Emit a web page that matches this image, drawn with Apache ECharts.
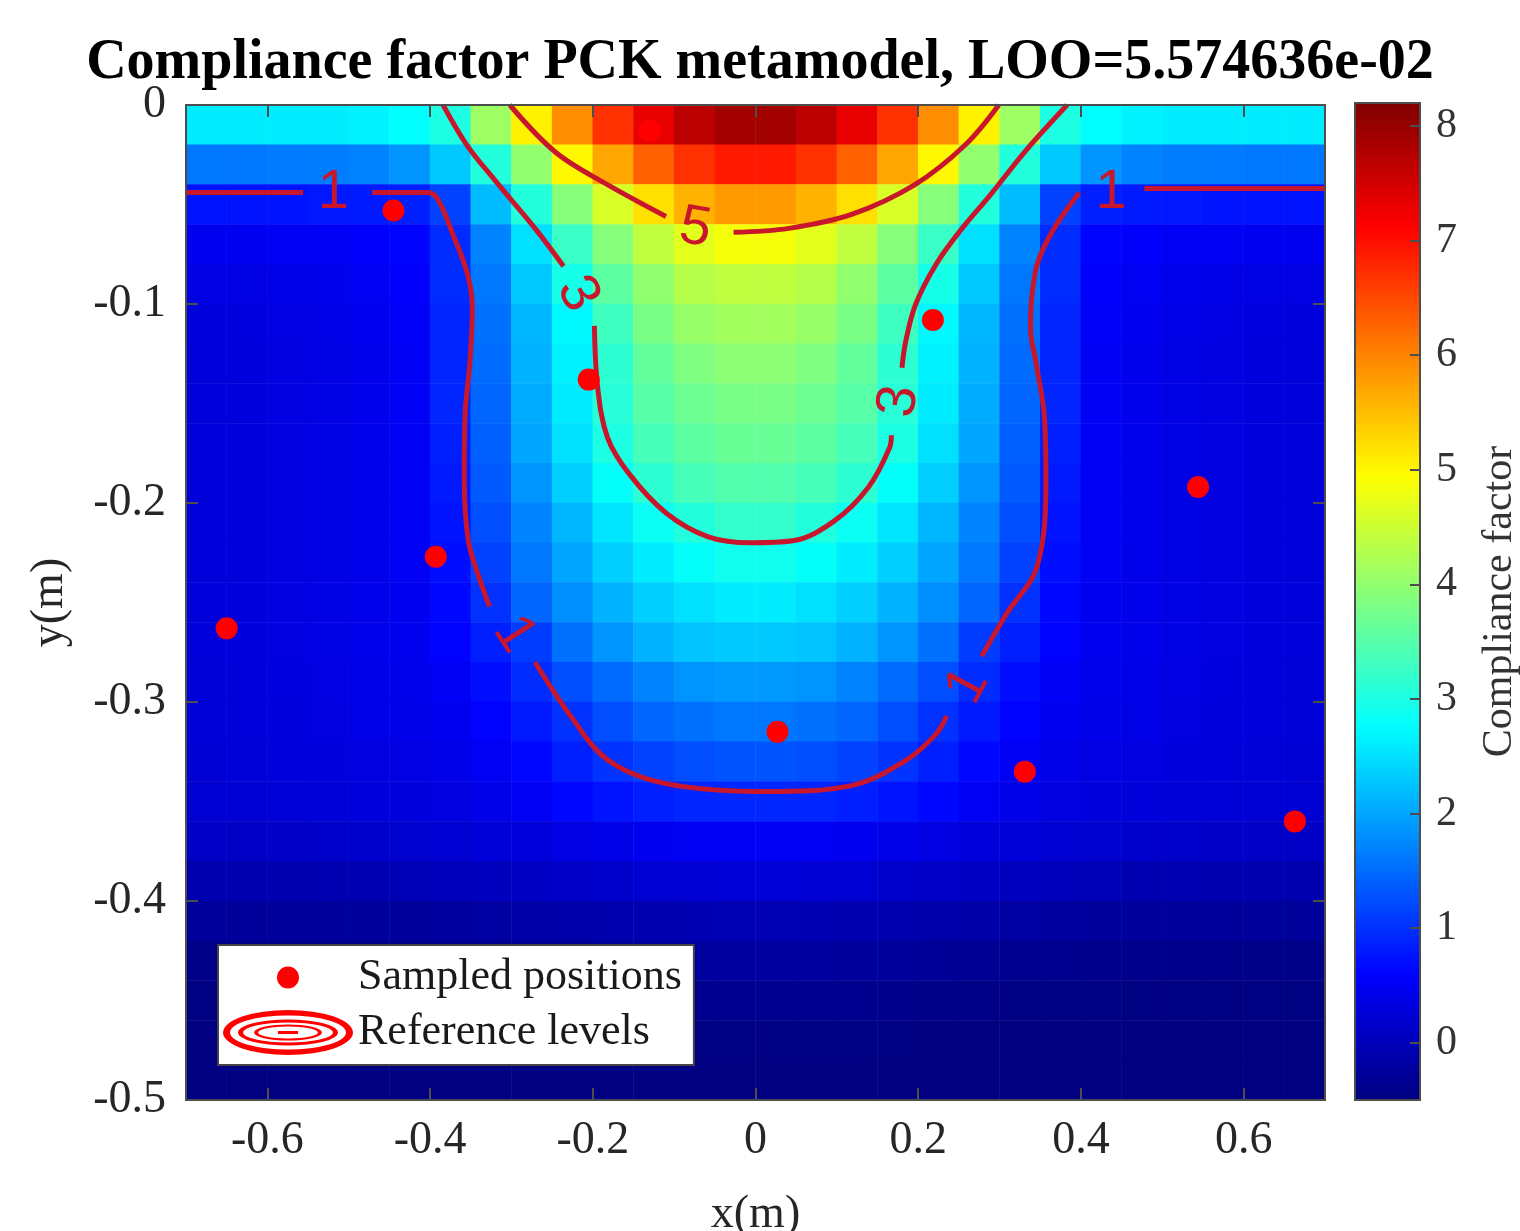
<!DOCTYPE html>
<html lang="en">
<head>
<meta charset="UTF-8">
<title>Compliance factor PCK metamodel</title>
<script src="https://cdn.jsdelivr.net/npm/echarts@6/dist/echarts.min.js"></script>
<style>
    html, body { margin: 0; padding: 0; background: #fff; }
    #chart { width: 1520px; height: 1231px; }
</style>
</head>
<body>
<div id="chart"></div>
<script>
    // cell centres of the metamodel grid (m)
    const xCenters = [-0.675, -0.625, -0.575, -0.525, -0.475, -0.425, -0.375, -0.325, -0.275, -0.225, -0.175, -0.125, -0.075, -0.025,
        0.025, 0.075, 0.125, 0.175, 0.225, 0.275, 0.325, 0.375, 0.425, 0.475, 0.525, 0.575, 0.625, 0.675];
    // top row first
    const yCenters = [-0.01, -0.03, -0.05, -0.07, -0.09, -0.11, -0.13, -0.15, -0.17, -0.19, -0.21, -0.23, -0.25,
        -0.27, -0.29, -0.31, -0.33, -0.35, -0.37, -0.39, -0.41, -0.43, -0.45, -0.47, -0.49];

    // compliance factor, one row per yCenters entry
    const fieldRows = [
        [2.6, 2.6, 2.6, 2.6, 2.65, 2.75, 3.0, 4.1, 5.05, 5.9, 6.7, 7.3, 7.7, 7.9, 7.9, 7.7, 7.3, 6.7, 5.9, 5.05, 4.1, 3.0, 2.75, 2.65, 2.6, 2.6, 2.6, 2.6],
        [1.6, 1.6, 1.62, 1.65, 1.7, 1.85, 2.3, 3.05, 4.0, 5.0, 5.7, 6.3, 6.7, 6.9, 6.9, 6.7, 6.3, 5.7, 5.0, 4.0, 3.05, 2.3, 1.85, 1.7, 1.65, 1.62, 1.6, 1.6],
        [0.75, 0.75, 0.75, 0.78, 0.8, 0.85, 1.15, 2.2, 3.05, 3.9, 4.6, 5.2, 5.6, 5.8, 5.8, 5.6, 5.2, 4.6, 3.9, 3.05, 2.2, 1.15, 0.85, 0.8, 0.78, 0.75, 0.75, 0.75],
        [0.45, 0.46, 0.48, 0.5, 0.55, 0.62, 0.95, 1.7, 2.5, 3.25, 3.9, 4.4, 4.7, 4.85, 4.85, 4.7, 4.4, 3.9, 3.25, 2.5, 1.7, 0.95, 0.62, 0.55, 0.5, 0.48, 0.46, 0.45],
        [0.35, 0.36, 0.38, 0.42, 0.48, 0.55, 0.95, 1.6, 2.3, 2.95, 3.55, 4.0, 4.3, 4.4, 4.4, 4.3, 4.0, 3.55, 2.95, 2.3, 1.6, 0.95, 0.55, 0.48, 0.42, 0.38, 0.36, 0.35],
        [0.3, 0.31, 0.34, 0.38, 0.45, 0.52, 0.9, 1.55, 2.15, 2.7, 3.3, 3.8, 4.05, 4.15, 4.15, 4.05, 3.8, 3.3, 2.7, 2.15, 1.55, 0.9, 0.52, 0.45, 0.38, 0.34, 0.31, 0.3],
        [0.28, 0.29, 0.32, 0.36, 0.43, 0.5, 0.9, 1.5, 2.1, 2.65, 3.15, 3.6, 3.85, 3.95, 3.95, 3.85, 3.6, 3.15, 2.65, 2.1, 1.5, 0.9, 0.5, 0.43, 0.36, 0.32, 0.29, 0.28],
        [0.28, 0.29, 0.32, 0.36, 0.43, 0.5, 0.9, 1.45, 2.05, 2.6, 3.1, 3.5, 3.7, 3.8, 3.8, 3.7, 3.5, 3.1, 2.6, 2.05, 1.45, 0.9, 0.5, 0.43, 0.36, 0.32, 0.29, 0.28],
        [0.28, 0.29, 0.32, 0.36, 0.43, 0.5, 0.85, 1.4, 2.0, 2.5, 3.0, 3.35, 3.55, 3.65, 3.65, 3.55, 3.35, 3.0, 2.5, 2.0, 1.4, 0.85, 0.5, 0.43, 0.36, 0.32, 0.29, 0.28],
        [0.28, 0.29, 0.32, 0.36, 0.43, 0.5, 0.8, 1.35, 1.85, 2.35, 2.8, 3.15, 3.35, 3.45, 3.45, 3.35, 3.15, 2.8, 2.35, 1.85, 1.35, 0.8, 0.5, 0.43, 0.36, 0.32, 0.29, 0.28],
        [0.28, 0.29, 0.32, 0.36, 0.43, 0.5, 0.75, 1.25, 1.7, 2.15, 2.55, 2.85, 3.05, 3.2, 3.2, 3.05, 2.85, 2.55, 2.15, 1.7, 1.25, 0.75, 0.5, 0.43, 0.36, 0.32, 0.29, 0.28],
        [0.28, 0.29, 0.32, 0.36, 0.42, 0.48, 0.7, 1.15, 1.6, 2.0, 2.35, 2.6, 2.8, 2.9, 2.9, 2.8, 2.6, 2.35, 2.0, 1.6, 1.15, 0.7, 0.48, 0.42, 0.36, 0.32, 0.29, 0.28],
        [0.28, 0.29, 0.32, 0.36, 0.42, 0.47, 0.65, 1.0, 1.45, 1.8, 2.1, 2.35, 2.5, 2.6, 2.6, 2.5, 2.35, 2.1, 1.8, 1.45, 1.0, 0.65, 0.47, 0.42, 0.36, 0.32, 0.29, 0.28],
        [0.27, 0.29, 0.32, 0.36, 0.41, 0.45, 0.6, 0.85, 1.1, 1.55, 1.85, 2.1, 2.25, 2.3, 2.3, 2.25, 2.1, 1.85, 1.55, 1.1, 0.85, 0.6, 0.45, 0.41, 0.36, 0.32, 0.29, 0.27],
        [0.26, 0.28, 0.31, 0.35, 0.39, 0.42, 0.5, 0.7, 0.95, 1.25, 1.5, 1.7, 1.85, 1.9, 1.9, 1.85, 1.7, 1.5, 1.25, 0.95, 0.7, 0.5, 0.42, 0.39, 0.35, 0.31, 0.28, 0.26],
        [0.25, 0.27, 0.3, 0.33, 0.37, 0.4, 0.45, 0.6, 0.8, 1.0, 1.25, 1.45, 1.55, 1.6, 1.6, 1.55, 1.45, 1.25, 1.0, 0.8, 0.6, 0.45, 0.4, 0.37, 0.33, 0.3, 0.27, 0.25],
        [0.23, 0.25, 0.27, 0.3, 0.33, 0.35, 0.4, 0.5, 0.65, 0.85, 1.02, 1.15, 1.25, 1.3, 1.3, 1.25, 1.15, 1.02, 0.85, 0.65, 0.5, 0.4, 0.35, 0.33, 0.3, 0.27, 0.25, 0.23],
        [0.2, 0.22, 0.24, 0.26, 0.28, 0.3, 0.33, 0.4, 0.5, 0.65, 0.75, 0.84, 0.9, 0.92, 0.92, 0.9, 0.84, 0.75, 0.65, 0.5, 0.4, 0.33, 0.3, 0.28, 0.26, 0.24, 0.22, 0.2],
        [0.1, 0.1, 0.12, 0.14, 0.16, 0.18, 0.2, 0.25, 0.3, 0.35, 0.4, 0.45, 0.48, 0.5, 0.5, 0.48, 0.45, 0.4, 0.35, 0.3, 0.25, 0.2, 0.18, 0.16, 0.14, 0.12, 0.1, 0.1],
        [-0.1, -0.09, -0.08, -0.07, -0.06, -0.04, 0.0, 0.04, 0.08, 0.12, 0.16, 0.2, 0.23, 0.25, 0.25, 0.23, 0.2, 0.16, 0.12, 0.08, 0.04, 0.0, -0.04, -0.06, -0.07, -0.08, -0.09, -0.1],
        [-0.28, -0.28, -0.27, -0.27, -0.26, -0.25, -0.23, -0.2, -0.16, -0.13, -0.1, -0.08, -0.06, -0.05, -0.05, -0.06, -0.08, -0.1, -0.13, -0.16, -0.2, -0.23, -0.25, -0.26, -0.27, -0.27, -0.28, -0.28],
        [-0.42, -0.42, -0.41, -0.41, -0.4, -0.4, -0.38, -0.36, -0.33, -0.3, -0.27, -0.25, -0.23, -0.22, -0.22, -0.23, -0.25, -0.27, -0.3, -0.33, -0.36, -0.38, -0.4, -0.4, -0.41, -0.41, -0.42, -0.42],
        [-0.48, -0.48, -0.48, -0.48, -0.48, -0.48, -0.47, -0.46, -0.44, -0.42, -0.4, -0.38, -0.37, -0.36, -0.36, -0.37, -0.38, -0.4, -0.42, -0.44, -0.46, -0.47, -0.48, -0.48, -0.48, -0.48, -0.48, -0.48],
        [-0.5, -0.5, -0.5, -0.5, -0.5, -0.5, -0.5, -0.5, -0.5, -0.49, -0.48, -0.47, -0.46, -0.46, -0.46, -0.46, -0.47, -0.48, -0.49, -0.5, -0.5, -0.5, -0.5, -0.5, -0.5, -0.5, -0.5, -0.5],
        [-0.5, -0.5, -0.5, -0.5, -0.5, -0.5, -0.5, -0.5, -0.5, -0.5, -0.5, -0.5, -0.5, -0.5, -0.5, -0.5, -0.5, -0.5, -0.5, -0.5, -0.5, -0.5, -0.5, -0.5, -0.5, -0.5, -0.5, -0.5]
    ];

    const sampledPositions = [
        [-0.445, -0.053], [-0.13, -0.013], [-0.205, -0.138], [0.218, -0.108], [-0.393, -0.227],
        [-0.65, -0.263], [0.027, -0.315], [0.544, -0.192], [0.331, -0.335], [0.663, -0.36]
    ];

    // reference level lines, split where the level labels sit
    const level1Segments = [
        [[-0.7, -0.044], [-0.556, -0.044]],
        [[-0.471, -0.044], [-0.404, -0.044], [-0.391, -0.047], [-0.372, -0.065], [-0.354, -0.085], [-0.348, -0.102],
            [-0.351, -0.129], [-0.357, -0.156], [-0.358, -0.188], [-0.353, -0.219], [-0.341, -0.236], [-0.327, -0.252]],
        [[-0.271, -0.28], [-0.229, -0.306], [-0.182, -0.329], [-0.11, -0.341], [0.015, -0.345], [0.118, -0.342],
            [0.186, -0.329], [0.222, -0.316], [0.235, -0.307]],
        [[0.278, -0.277], [0.308, -0.256], [0.346, -0.232], [0.357, -0.188], [0.355, -0.156], [0.345, -0.13],
            [0.338, -0.112], [0.34, -0.095], [0.347, -0.079], [0.367, -0.062], [0.398, -0.044]],
        [[0.478, -0.042], [0.7, -0.042]]
    ];
    const level3Segments = [
        [[-0.384, 0], [-0.355, -0.02], [-0.322, -0.037], [-0.271, -0.062], [-0.236, -0.081]],
        [[-0.198, -0.111], [-0.194, -0.142], [-0.182, -0.167], [-0.156, -0.185], [-0.11, -0.205], [-0.058, -0.217],
            [-0.006, -0.22], [0.046, -0.219], [0.097, -0.209], [0.139, -0.192], [0.165, -0.172], [0.167, -0.166]],
        [[0.18, -0.132], [0.185, -0.118], [0.197, -0.1], [0.222, -0.08], [0.252, -0.063], [0.289, -0.045],
            [0.332, -0.023], [0.383, 0]]
    ];
    const level5Segments = [
        [[-0.302, 0], [-0.245, -0.024], [-0.182, -0.04], [-0.11, -0.056]],
        [[-0.027, -0.064], [0.041, -0.062], [0.118, -0.055], [0.196, -0.04], [0.258, -0.02], [0.299, 0]]
    ];

    // [x, y, level]
    const contourLabels = [
        [-0.519, -0.044, 1], [0.437, -0.044, 1], [-0.297, -0.266, 1], [0.261, -0.292, 1],
        [-0.219, -0.095, 3], [0.177, -0.149, 3], [-0.074, -0.062, 5]
    ];
    const labelAngles = [0, 0, -57, 62, -62, 82, -10];

    const xTicks = [-0.6, -0.4, -0.2, 0, 0.2, 0.4, 0.6];
    const yTicks = [-0.5, -0.4, -0.3, -0.2, -0.1, 0];
    const colorTicks = [0, 1, 2, 3, 4, 5, 6, 7, 8];

    const jet = ['#000080', '#0000ff', '#0080ff', '#00ffff', '#80ff80', '#ffff00', '#ff8000', '#ff0000', '#800000'];

    const heatData = [];
    fieldRows.forEach(function (row, r) {
        row.forEach(function (v, c) {
            heatData.push([c, yCenters.length - 1 - r, v]);
        });
    });

    const serif = 'Liberation Serif';
    const frameLine = {onZero: false, lineStyle: {color: '#4d4d4d', width: 2}};
    const tickStyle = {color: '#4d4d4d', width: 2};
    const labelFont = {fontFamily: serif, fontSize: 46, color: '#262626'};
    const contourColor = '#c8172d';

    const dotIcon = 'path://M0,0L0.01,0L0,0.01Z M130,45L129.99,45L130,44.99Z M54,22.5A11,11,0,1,1,76,22.5A11,11,0,1,1,54,22.5Z';
    const ringIcon = 'path://M0,22.5A65,22.5,0,1,1,130,22.5A65,22.5,0,1,1,0,22.5Z' +
        'M7,22.5A58,17,0,1,0,123,22.5A58,17,0,1,0,7,22.5Z' +
        'M15,22.5A50,13,0,1,1,115,22.5A50,13,0,1,1,15,22.5Z' +
        'M20,22.5A45,10,0,1,0,110,22.5A45,10,0,1,0,20,22.5Z' +
        'M31,22.5A34,8,0,1,1,99,22.5A34,8,0,1,1,31,22.5Z' +
        'M35,22.5A30,6,0,1,0,95,22.5A30,6,0,1,0,35,22.5Z' +
        'M55,21L75,21L75,24L55,24Z';

    const series = [{
        type: 'heatmap',
        xAxisIndex: 0,
        yAxisIndex: 0,
        data: heatData,
        emphasis: {disabled: true},
        silent: true
    }];

    level1Segments.concat(level3Segments, level5Segments).forEach(function (seg) {
        series.push({
            type: 'line',
            name: 'Reference levels',
            xAxisIndex: 1,
            yAxisIndex: 1,
            data: seg,
            symbol: 'none',
            smooth: 0.35,
            lineStyle: {color: contourColor, width: 5},
            itemStyle: {color: contourColor},
            z: 5,
            silent: true
        });
    });

    series.push({
        type: 'scatter',
        name: 'Sampled positions',
        xAxisIndex: 1,
        yAxisIndex: 1,
        data: sampledPositions,
        symbolSize: 22,
        itemStyle: {color: '#ff0000', opacity: 1},
        z: 6
    });

    // level numbers written on the contour lines
    series.push({
        type: 'scatter',
        name: 'levels',
        xAxisIndex: 1,
        yAxisIndex: 1,
        symbolSize: 1,
        itemStyle: {color: 'rgba(0,0,0,0)', opacity: 1},
        data: contourLabels.map(function (p, i) {
            return {value: p, label: {rotate: labelAngles[i]}};
        }),
        label: {
            show: true,
            position: 'inside',
            formatter: function (p) { return String(p.value[2]); },
            color: contourColor,
            fontFamily: 'Liberation Sans',
            fontSize: 56
        },
        z: 7,
        silent: true
    });

    const option = {
        animation: false,
        backgroundColor: '#fff',
        title: {
            text: 'Compliance factor PCK metamodel, LOO=5.574636e-02',
            left: 'center',
            top: 31,
            textStyle: {fontFamily: serif, fontWeight: 'bold', fontSize: 56, color: '#000'}
        },
        grid: [
            {left: 186, top: 105, width: 1139, height: 995, outerBoundsMode: 'none'},
            {left: 1355, top: 103, width: 65, height: 997, outerBoundsMode: 'none'}
        ],
        xAxis: [
            {type: 'category', gridIndex: 0, data: xCenters.map(String), show: false},
            {
                type: 'value', gridIndex: 0, position: 'bottom', min: -0.7, max: 0.7, z: 10,
                axisLine: frameLine,
                axisTick: {inside: true, length: 12, customValues: xTicks, lineStyle: tickStyle},
                axisLabel: Object.assign({customValues: xTicks, margin: 18}, labelFont),
                splitLine: {show: false},
                name: 'x(m)', nameLocation: 'middle', nameGap: 92,
                nameTextStyle: labelFont
            },
            {
                type: 'value', gridIndex: 0, position: 'top', min: -0.7, max: 0.7, z: 10,
                axisLine: frameLine,
                axisTick: {inside: true, length: 12, customValues: xTicks, lineStyle: tickStyle},
                axisLabel: {show: false},
                splitLine: {show: false}
            },
            {
                type: 'value', gridIndex: 1, position: 'bottom', min: 0, max: 1, z: 10,
                axisLine: frameLine, axisTick: {show: false}, axisLabel: {show: false}, splitLine: {show: false}
            },
            {
                type: 'value', gridIndex: 1, position: 'top', min: 0, max: 1, z: 10,
                axisLine: frameLine, axisTick: {show: false}, axisLabel: {show: false}, splitLine: {show: false}
            }
        ],
        yAxis: [
            {type: 'category', gridIndex: 0, data: yCenters.slice().reverse().map(String), show: false},
            {
                type: 'value', gridIndex: 0, position: 'left', min: -0.5, max: 0, z: 10,
                axisLine: frameLine,
                axisTick: {inside: true, length: 12, customValues: yTicks, lineStyle: tickStyle},
                axisLabel: Object.assign({customValues: yTicks, margin: 20}, labelFont),
                splitLine: {show: false},
                name: 'y(m)', nameLocation: 'middle', nameGap: 113, nameRotate: 90,
                nameTextStyle: labelFont
            },
            {
                type: 'value', gridIndex: 0, position: 'right', min: -0.5, max: 0, z: 10,
                axisLine: frameLine,
                axisTick: {inside: true, length: 12, customValues: yTicks, lineStyle: tickStyle},
                axisLabel: {show: false},
                splitLine: {show: false}
            },
            {
                type: 'value', gridIndex: 1, position: 'left', min: -0.5, max: 8.2, z: 10,
                axisLine: frameLine, axisTick: {show: false}, axisLabel: {show: false}, splitLine: {show: false}
            },
            {
                type: 'value', gridIndex: 1, position: 'right', min: -0.5, max: 8.2, z: 10,
                axisLine: frameLine,
                axisTick: {inside: true, length: 10, customValues: colorTicks, lineStyle: tickStyle},
                axisLabel: {customValues: colorTicks, margin: 16, fontFamily: serif, fontSize: 42, color: '#333'},
                splitLine: {show: false},
                name: 'Compliance factor', nameLocation: 'middle', nameGap: 59, nameRotate: 90,
                nameTextStyle: {fontFamily: serif, fontSize: 42, color: '#333'}
            }
        ],
        visualMap: {
            type: 'continuous',
            seriesIndex: 0,
            dimension: 2,
            min: -0.5,
            max: 8.2,
            calculable: false,
            hoverLink: false,
            left: 1355,
            top: 103,
            padding: 0,
            itemWidth: 65,
            itemHeight: 997,
            inRange: {color: jet}
        },
        legend: {
            orient: 'vertical',
            left: 218,
            top: 945,
            itemWidth: 130,
            itemHeight: 45,
            itemGap: 10,
            padding: [10, 12, 10, 5],
            backgroundColor: '#fff',
            borderColor: '#444',
            borderWidth: 2,
            selectedMode: false,
            textStyle: {fontFamily: serif, fontSize: 44, color: '#1a1a1a'},
            data: [
                {name: 'Sampled positions', icon: dotIcon, itemStyle: {color: '#ff0000', borderWidth: 0, opacity: 1}},
                {name: 'Reference levels', icon: ringIcon, itemStyle: {color: '#ff0000', borderWidth: 0, opacity: 1}}
            ]
        },
        series: series
    };

    const chart = echarts.init(document.getElementById('chart'));
    chart.setOption(option);
</script>
</body>
</html>
